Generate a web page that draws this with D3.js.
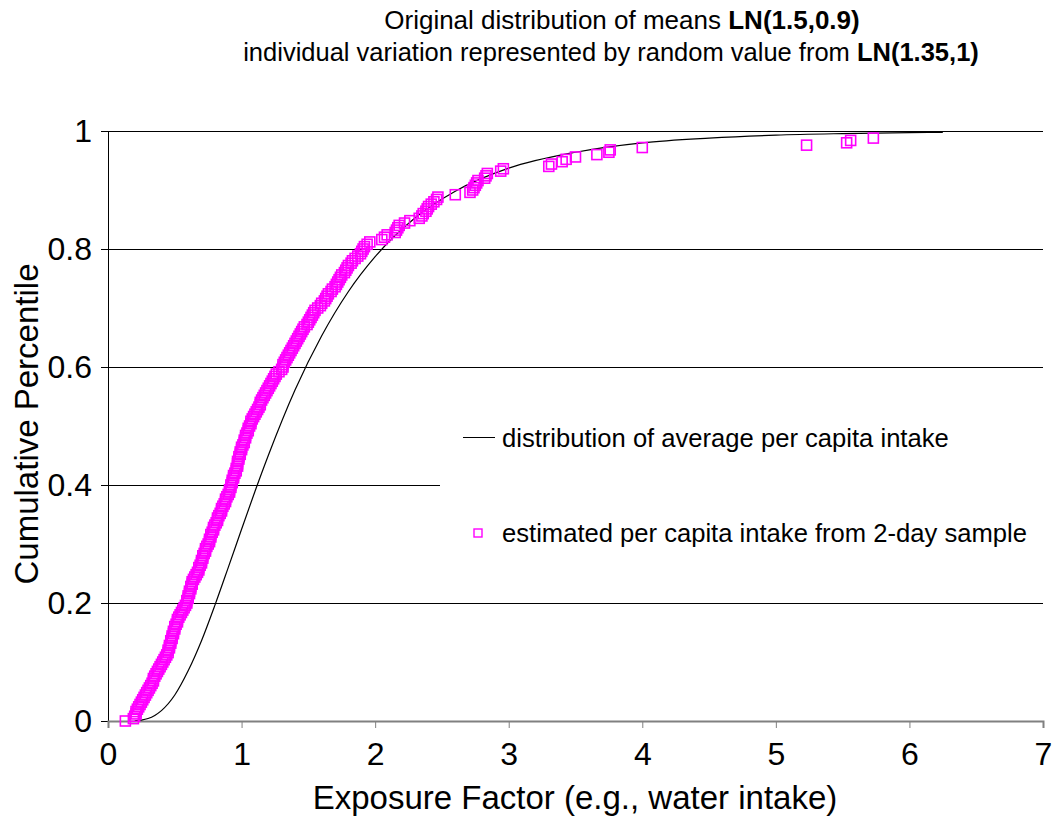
<!DOCTYPE html>
<html>
<head>
<meta charset="utf-8">
<script src="https://cdn.jsdelivr.net/npm/d3@7"></script>
<style>
  html, body { margin: 0; padding: 0; background: #fff; }
  svg { display: block; font-family: "Liberation Sans", Arial, sans-serif; }
</style>
</head>
<body>
<svg id="chart" width="1053" height="826"></svg>
<script>
// Lognormal CDF of average per-capita intake (exposure factor vs cumulative percentile)
const curveX = [0.2, 0.25, 0.3, 0.35, 0.4, 0.5, 0.6, 0.7, 0.8, 0.9, 1.0, 1.1, 1.2, 1.4, 1.6, 1.8, 2.0, 2.3, 2.6, 3.0, 3.5, 4.0, 4.5, 5.0, 5.5, 6.0, 6.25];
const curveP = [0.0004, 0.0016, 0.0043, 0.0095, 0.0176, 0.044, 0.085, 0.136, 0.196, 0.26, 0.325, 0.389, 0.45, 0.561, 0.653, 0.728, 0.787, 0.853, 0.898, 0.937, 0.964, 0.980, 0.988, 0.993, 0.9956, 0.9973, 0.9978];

// Estimated per-capita intake from a 2-day sample, sorted, with cumulative percentile
const sampleX = [
  0.13, 0.19, 0.20, 0.21, 0.21, 0.22, 0.23, 0.24, 0.25, 0.26,
  0.27, 0.28, 0.29, 0.30, 0.31, 0.32, 0.33, 0.34, 0.34, 0.35,
  0.36, 0.37, 0.38, 0.39, 0.40, 0.41, 0.42, 0.43, 0.44, 0.45,
  0.45, 0.46, 0.46, 0.47, 0.47, 0.48, 0.48, 0.49, 0.49, 0.50,
  0.50, 0.51, 0.52, 0.52, 0.53, 0.54, 0.55, 0.56, 0.57, 0.58,
  0.59, 0.59, 0.60, 0.60, 0.61, 0.61, 0.62, 0.62, 0.63, 0.63,
  0.64, 0.65, 0.66, 0.67, 0.68, 0.68, 0.69, 0.70, 0.70, 0.71,
  0.71, 0.72, 0.73, 0.73, 0.74, 0.75, 0.76, 0.76, 0.77, 0.77,
  0.78, 0.79, 0.79, 0.80, 0.81, 0.82, 0.82, 0.83, 0.84, 0.85,
  0.85, 0.86, 0.87, 0.88, 0.88, 0.89, 0.90, 0.91, 0.91, 0.92,
  0.92, 0.93, 0.93, 0.94, 0.94, 0.95, 0.96, 0.96, 0.97, 0.97,
  0.97, 0.98, 0.98, 0.99, 0.99, 1.00, 1.00, 1.01, 1.02, 1.02,
  1.03, 1.03, 1.04, 1.05, 1.05, 1.06, 1.07, 1.07, 1.08, 1.09,
  1.10, 1.11, 1.12, 1.13, 1.14, 1.14, 1.15, 1.16, 1.17, 1.18,
  1.19, 1.20, 1.21, 1.22, 1.23, 1.24, 1.25, 1.26, 1.28, 1.30,
  1.31, 1.31, 1.32, 1.33, 1.34, 1.35, 1.36, 1.37, 1.38, 1.39,
  1.40, 1.41, 1.42, 1.43, 1.44, 1.45, 1.46, 1.47, 1.49, 1.50,
  1.51, 1.52, 1.53, 1.54, 1.55, 1.57, 1.59, 1.60, 1.62, 1.63,
  1.64, 1.65, 1.67, 1.68, 1.70, 1.71, 1.72, 1.73, 1.74, 1.75,
  1.77, 1.78, 1.79, 1.80, 1.82, 1.83, 1.85, 1.87, 1.89, 1.90,
  1.91, 1.92, 1.94, 1.96, 2.05, 2.07, 2.09, 2.15, 2.16, 2.17,
  2.18, 2.22, 2.26, 2.33, 2.35, 2.36, 2.38, 2.39, 2.40, 2.42,
  2.44, 2.46, 2.47, 2.60, 2.71, 2.73, 2.74, 2.75, 2.76, 2.77,
  2.82, 2.83, 2.84, 2.94, 2.96, 3.30, 3.32, 3.40, 3.43, 3.50,
  3.66, 3.75, 3.76, 4.00, 5.23, 5.53, 5.56, 5.73
];
const sampleP = [
  0.000, 0.004, 0.008, 0.012, 0.016, 0.020, 0.024, 0.028, 0.032, 0.036,
  0.040, 0.044, 0.048, 0.052, 0.056, 0.060, 0.064, 0.068, 0.072, 0.076,
  0.080, 0.084, 0.088, 0.092, 0.096, 0.100, 0.104, 0.108, 0.112, 0.116,
  0.120, 0.124, 0.128, 0.132, 0.136, 0.140, 0.144, 0.148, 0.152, 0.156,
  0.160, 0.164, 0.168, 0.172, 0.176, 0.180, 0.184, 0.188, 0.192, 0.196,
  0.200, 0.204, 0.208, 0.212, 0.216, 0.220, 0.224, 0.228, 0.232, 0.236,
  0.240, 0.244, 0.248, 0.252, 0.256, 0.260, 0.264, 0.268, 0.272, 0.276,
  0.280, 0.284, 0.288, 0.292, 0.296, 0.300, 0.304, 0.308, 0.312, 0.316,
  0.320, 0.324, 0.328, 0.332, 0.336, 0.340, 0.344, 0.348, 0.352, 0.356,
  0.360, 0.364, 0.368, 0.372, 0.376, 0.380, 0.384, 0.388, 0.392, 0.396,
  0.400, 0.404, 0.408, 0.412, 0.416, 0.420, 0.424, 0.428, 0.432, 0.436,
  0.440, 0.444, 0.448, 0.452, 0.456, 0.460, 0.464, 0.468, 0.472, 0.476,
  0.480, 0.484, 0.488, 0.492, 0.496, 0.500, 0.504, 0.508, 0.512, 0.516,
  0.520, 0.524, 0.528, 0.532, 0.536, 0.540, 0.544, 0.548, 0.552, 0.556,
  0.560, 0.564, 0.568, 0.572, 0.576, 0.580, 0.584, 0.588, 0.592, 0.596,
  0.600, 0.604, 0.608, 0.612, 0.616, 0.620, 0.624, 0.628, 0.632, 0.636,
  0.640, 0.644, 0.648, 0.652, 0.656, 0.660, 0.664, 0.668, 0.672, 0.676,
  0.680, 0.684, 0.688, 0.692, 0.696, 0.700, 0.704, 0.708, 0.712, 0.716,
  0.720, 0.724, 0.728, 0.732, 0.736, 0.740, 0.744, 0.748, 0.752, 0.756,
  0.760, 0.764, 0.768, 0.772, 0.776, 0.780, 0.784, 0.788, 0.792, 0.796,
  0.800, 0.804, 0.808, 0.812, 0.816, 0.820, 0.824, 0.828, 0.832, 0.836,
  0.840, 0.844, 0.848, 0.852, 0.856, 0.860, 0.864, 0.868, 0.872, 0.876,
  0.880, 0.884, 0.888, 0.892, 0.896, 0.900, 0.904, 0.908, 0.912, 0.916,
  0.920, 0.924, 0.928, 0.932, 0.936, 0.940, 0.944, 0.948, 0.952, 0.956,
  0.960, 0.964, 0.968, 0.972, 0.976, 0.980, 0.984, 0.988
];

const xTicks = [0, 1, 2, 3, 4, 5, 6, 7];
const yTicks = [0, 0.2, 0.4, 0.6, 0.8, 1];
const legendLabels = ["distribution of average per capita intake", "estimated per capita intake from 2-day sample"];

const svg = d3.select("#chart");
const plot = { left: 108, right: 1043, top: 131, bottom: 721 };

const x = d3.scaleLinear().domain([0, 7]).range([plot.left, plot.right]);
const y = d3.scaleLinear().domain([0, 1]).range([plot.bottom, plot.top]);

// Horizontal gridlines
svg.append("g")
  .attr("shape-rendering", "crispEdges")
  .selectAll("line")
  .data(yTicks.filter(d => d > 0))
  .join("line")
  .attr("x1", x(0)).attr("x2", x(7))
  .attr("y1", d => y(d)).attr("y2", d => y(d))
  .attr("stroke", "#000").attr("stroke-width", 1);

// Y axis
const yAxis = svg.append("g")
  .attr("transform", `translate(${plot.left},0)`)
  .call(d3.axisLeft(y).tickValues(yTicks).tickFormat(d3.format("")).tickSize(7).tickPadding(9));
yAxis.attr("shape-rendering", "crispEdges");
yAxis.select(".domain").attr("stroke", "#000").attr("stroke-width", 1);
yAxis.selectAll(".tick line").attr("stroke", "#000");
yAxis.selectAll(".tick text")
  .attr("font-size", 32).attr("fill", "#000")
  .attr("font-family", "Liberation Sans, Arial, sans-serif");

// X axis
const xAxis = svg.append("g")
  .attr("transform", `translate(0,${plot.bottom})`)
  .call(d3.axisBottom(x).tickValues(xTicks).tickFormat(d3.format("d")).tickSize(7).tickPadding(14));
xAxis.select(".domain").attr("stroke", "#808080").attr("stroke-width", 2);
xAxis.selectAll(".tick line").attr("stroke", "#808080");
xAxis.selectAll(".tick text")
  .attr("font-size", 32).attr("fill", "#000")
  .attr("font-family", "Liberation Sans, Arial, sans-serif");

// Legend background masks part of the 0.4 gridline
svg.append("rect")
  .attr("x", 440).attr("y", 400).attr("width", 605).attr("height", 170)
  .attr("fill", "#fff");

// Lognormal CDF curve
const curveData = curveX.map((v, i) => [v, curveP[i]]);
svg.append("path")
  .datum(curveData)
  .attr("fill", "none")
  .attr("stroke", "#000")
  .attr("stroke-width", 1.2)
  .attr("d", d3.line().x(d => x(d[0])).y(d => y(d[1])).curve(d3.curveMonotoneX));

// Sample points as hollow squares
const ms = 10;
svg.append("g")
  .selectAll("rect")
  .data(sampleX.map((v, i) => [v, sampleP[i]]))
  .join("rect")
  .attr("x", d => x(d[0]) - ms / 2)
  .attr("y", d => y(d[1]) - ms / 2)
  .attr("width", ms).attr("height", ms)
  .attr("fill", "none")
  .attr("stroke", "#ff00ff")
  .attr("stroke-width", 1.6);

// Legend
const legend = svg.append("g");
legend.append("line")
  .attr("x1", 463).attr("x2", 495).attr("y1", 437.5).attr("y2", 437.5)
  .attr("stroke", "#000").attr("stroke-width", 1);
legend.append("text")
  .attr("x", 502).attr("y", 447)
  .attr("font-size", 25.6).attr("fill", "#000")
  .text(legendLabels[0]);
legend.append("rect")
  .attr("x", 474).attr("y", 529).attr("width", 8).attr("height", 8)
  .attr("fill", "none").attr("stroke", "#ff00ff").attr("stroke-width", 1.4);
legend.append("text")
  .attr("x", 502).attr("y", 542)
  .attr("font-size", 25.6).attr("fill", "#000")
  .text(legendLabels[1]);

// Title
const t1 = svg.append("text").attr("x", 622).attr("y", 29).attr("text-anchor", "middle")
  .attr("font-size", 26).attr("fill", "#000");
t1.append("tspan").text("Original distribution of means ");
t1.append("tspan").attr("font-weight", "bold").text("LN(1.5,0.9)");
const t2 = svg.append("text").attr("x", 611).attr("y", 61).attr("text-anchor", "middle")
  .attr("font-size", 25.5).attr("fill", "#000");
t2.append("tspan").text("individual variation represented by random value from ");
t2.append("tspan").attr("font-weight", "bold").text("LN(1.35,1)");

// Axis titles
svg.append("text")
  .attr("x", 575).attr("y", 809).attr("text-anchor", "middle")
  .attr("font-size", 33).attr("fill", "#000")
  .text("Exposure Factor (e.g., water intake)");
svg.append("text")
  .attr("transform", "translate(38,424) rotate(-90)")
  .attr("text-anchor", "middle")
  .attr("font-size", 33).attr("fill", "#000")
  .text("Cumulative Percentile");
</script>
</body>
</html>
